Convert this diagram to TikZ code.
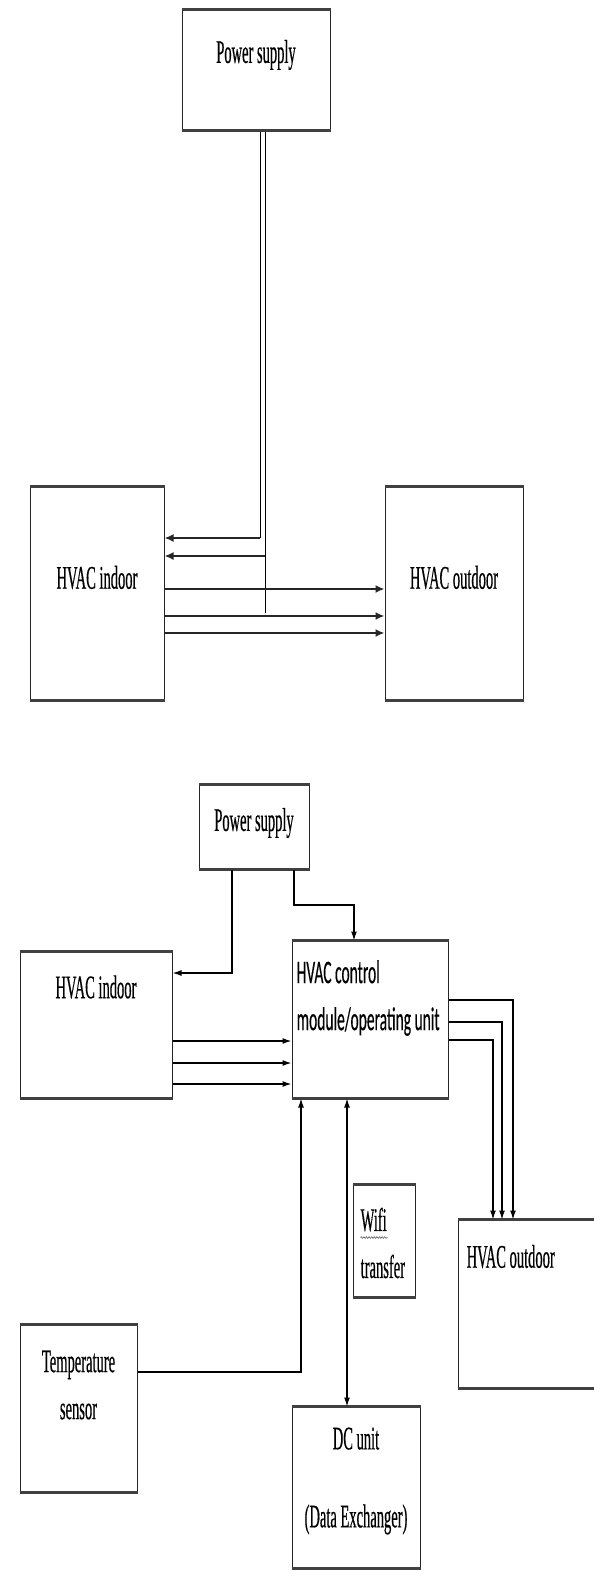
\documentclass[tikz,border=0pt]{standalone}
\usepackage{fontspec}
\newfontfamily\boxserif[FakeStretch=0.44, FakeBold=0.4]{Liberation Serif}
\newfontfamily\boxsans[FakeStretch=0.47, FakeBold=0.3]{Carlito}
\usetikzlibrary{arrows.meta, decorations.pathmorphing}
\tikzset{
  unit/.style={rectangle, draw=black!85, line width=1pt, inner sep=0pt},
  rim/.style={line width=2.4pt, black!75},
  txt/.style={font=\boxserif\fontsize{33}{47}\selectfont, inner sep=0pt},
  txtsans/.style={font=\boxsans\fontsize{33}{47}\selectfont, inner sep=0pt, align=left},
  wire/.style={line width=0.8pt},
  squiggle/.style={line width=0.5pt, black!70, decorate, decoration={snake, amplitude=0.9pt, segment length=2.6pt}},
  bus/.style={line width=2.4pt, black!85, -{Latex[length=9pt,width=8pt]}},
  arrow/.style={line width=1.3pt, -{Latex[length=9pt,width=6pt]}},
  arrow2/.style={line width=1.3pt, {Latex[length=9pt,width=6pt]}-{Latex[length=9pt,width=6pt]}}
}
\begin{document}
\begin{tikzpicture}[x=1pt, y=-1pt]
  \useasboundingbox (0,0) rectangle (594,1587);

  % upper diagram
  \node (ps1) [unit, minimum width=148pt, minimum height=120pt] at (256,70) {};
  \node (indoor1) [unit, minimum width=134pt, minimum height=213pt] at (97,593.5) {};
  \node (outdoor1) [unit, minimum width=138pt, minimum height=213pt] at (454,593.5) {};
  \node (ps1txt) [txt] at ([yshift=15pt]ps1.center) {Power supply};
  \node (indoor1txt) [txt] at ([yshift=16pt]indoor1.center) {HVAC indoor};
  \node (outdoor1txt) [txt] at ([yshift=16pt]outdoor1.center) {HVAC outdoor};

  \coordinate (tapA) at (260,538);
  \coordinate (tapB) at (265,556);
  \coordinate (stubB) at (265,613);

  \draw [wire] ([xshift=4pt]ps1.south) -- (tapA);
  \draw [wire] ([xshift=9pt]ps1.south) -- (stubB);
  \draw [bus] (tapA) -- (tapA -| indoor1.east);
  \draw [bus] (tapB) -- (tapB -| indoor1.east);
  \foreach \dy in {4.5,-22.5,-39.5}
    \draw [bus] ([yshift=\dy pt]indoor1.east) -- ([yshift=\dy pt]outdoor1.west);

  % lower diagram
  \node (ps2) [unit, minimum width=110pt, minimum height=84pt] at (254,827) {};
  \node (indoor2) [unit, minimum width=152pt, minimum height=146pt] at (96,1025) {};
  \node (ctrl) [unit, minimum width=156pt, minimum height=157pt] at (370,1019.5) {};
  \node (wifi) [unit, minimum width=62pt, minimum height=112pt] at (384,1241) {};
  \node (outdoor2) [unit, minimum width=136pt, minimum height=168pt] at (526,1304) {};
  \node (tsensor) [unit, minimum width=117pt, minimum height=167pt] at (78.5,1408.5) {};
  \node (dcunit) [unit, minimum width=128pt, minimum height=161pt] at (356,1487.5) {};

  \node (ps2txt) [txt] at ([yshift=4pt]ps2.center) {Power supply};
  \node (indoor2txt) [txt] at ([yshift=38pt]indoor2.center) {HVAC indoor};
  \node (ctrltxt) [txtsans, anchor=west] at ([xshift=5pt,yshift=-57.5pt]ctrl.north west) {HVAC control\\module/operating unit};
  \node (wifitxt) [txt, anchor=west, align=left] at ([xshift=8pt,yshift=-58.5pt]wifi.north west) {Wifi\\transfer};
  \node (outdoor2txt) [txt, anchor=west] at ([xshift=9pt,yshift=-37pt]outdoor2.north west) {HVAC outdoor};
  \node (tsensortxt) [txt, align=center] at ([yshift=23.5pt]tsensor.center) {Temperature\\sensor};
  \node (dcunittxt) [txt, align=center] at ([yshift=6.5pt]dcunit.center) {DC unit\\[31pt](Data Exchanger)};
  \draw [squiggle] ([yshift=-30pt]wifitxt.north west) -- ([xshift=27pt,yshift=-30pt]wifitxt.north west);

  % heavier top and bottom rims of the boxes
  \foreach \n in {ps1,indoor1,outdoor1,ps2,indoor2,ctrl,wifi,outdoor2,tsensor,dcunit}
    \draw [rim] (\n.north west) -- (\n.north east) (\n.south west) -- (\n.south east);

  \coordinate (pbend) at (294,905);

  \draw [arrow] ([xshift=-22pt]ps2.south) |- ([yshift=52pt]indoor2.east);
  \draw [arrow] ([xshift=40pt]ps2.south) -- (pbend) -| ([xshift=-16pt]ctrl.north);
  \foreach \a/\b in {-16/-21.5,-38/-43.5,-59/-64.5}
    \draw [arrow] ([yshift=\a pt]indoor2.east) -- ([yshift=\b pt]ctrl.west);
  \foreach \dy/\dx in {19.5/-13,-2.5/-24,-20.5/-33}
    \draw [arrow] ([yshift=\dy pt]ctrl.east) -| ([xshift=\dx pt]outdoor2.north);
  \draw [arrow] ([yshift=36.5pt]tsensor.east) -| ([xshift=-69pt]ctrl.south);
  \draw [arrow2] ([xshift=-23pt]ctrl.south) -- ([xshift=-23pt]ctrl.south |- dcunit.north);
\end{tikzpicture}
\end{document}
